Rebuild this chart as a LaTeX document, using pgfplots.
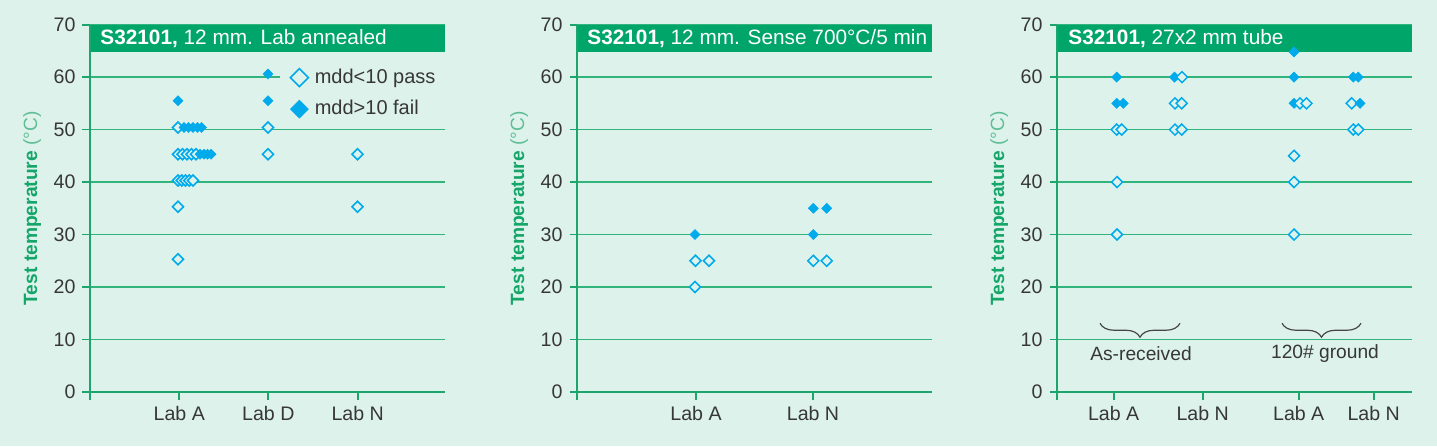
\documentclass[border=0pt]{standalone}
\usepackage{fontspec}
\setmainfont{Liberation Sans}
\usepackage{pgfplots}
\usepackage{pgfplotstable}
\pgfplotsset{compat=1.18}
\usetikzlibrary{decorations.pathreplacing}
\definecolor{bgc}{RGB}{222,242,236}
\definecolor{bandc}{RGB}{0,165,105}
\definecolor{gridc}{RGB}{50,180,125}
\definecolor{axc}{RGB}{30,165,110}
\definecolor{mk}{RGB}{0,170,235}
\definecolor{tickc}{RGB}{55,55,55}
\definecolor{labc}{RGB}{20,165,105}
\definecolor{labc2}{RGB}{95,190,150}
\definecolor{bracec}{RGB}{70,70,70}

\pgfdeclareplotmark{dia}{%
 \pgfpathmoveto{\pgfqpoint{0pt}{\pgfplotmarksize}}%
 \pgfpathlineto{\pgfqpoint{\pgfplotmarksize}{0pt}}%
 \pgfpathlineto{\pgfqpoint{0pt}{-\pgfplotmarksize}}%
 \pgfpathlineto{\pgfqpoint{-\pgfplotmarksize}{0pt}}%
 \pgfpathclose\pgfusepathqfillstroke}

% x = position in px from the left axis line, y = test temperature, c = o (pass) / f (fail)
\pgfplotstableread{
x y c
88 25.3 o
88 35.3 o
88 40.3 o
91.75 40.3 o
95.5 40.3 o
99.25 40.3 o
103 40.3 o
88 45.3 o
92.5 45.3 o
97 45.3 o
101.5 45.3 o
106 45.3 o
110 45.3 f
114 45.3 f
117.5 45.3 f
121 45.3 f
88 50.4 o
94 50.4 f
98.5 50.4 f
103 50.4 f
107.5 50.4 f
111.5 50.4 f
88 55.5 f
178 45.3 o
178 50.4 o
178 55.5 f
178 60.6 f
267.5 35.3 o
267.5 45.3 o
}\panelA

\pgfplotstableread{
x y c
118 20 o
118.5 25 o
132 25 o
118 30 f
236.3 25 o
249.7 25 o
236.3 30 f
236.3 35 f
249.7 35 f
}\panelB

\pgfplotstableread{
x y c
60 30 o
60 40 o
59.7 50 o
64.7 50 o
59.7 55 f
66.3 55 f
59.7 60 f
118 50 o
124.7 50 o
118 55 o
124.7 55 o
117.5 60 f
125 60 o
237 30 o
237 40 o
237 45 o
237 55 f
243 55 o
249.5 55 o
237 60 f
237 64.8 f
296.3 50 o
301.3 50 o
294.7 55 o
303 55 f
296.3 60 f
301.3 60 f
}\panelC

\tikzset{ttl/.style={anchor=west, inner sep=0pt, text=white, font=\fontsize{10.4}{12}\selectfont}}

\pgfplotsset{
 panel/.style={
  scale only axis, width=177.5pt, height=183.7pt,
  anchor=south west,
  xmin=0, xmax=355, ymin=0, ymax=70,
  clip=false,
  axis line style={draw=none},
  tick pos=left, tick align=outside,
  major tick length=3.75pt,
  tick style={axc, line width=0.9pt},
  ytick={0,10,...,70},
  ymajorgrids, grid style={gridc, line width=0.8pt},
  /pgf/number format/assume math mode=true,
  tick label style={font=\fontsize{9.8}{11}\selectfont, text=tickc},
  ylabel={\textbf{Test temperature} \textcolor{labc2}{(°C)}},
  every axis y label/.style={at={(axis description cs:-0.163,0.5)}, rotate=90, anchor=center, font=\fontsize{9.6}{11}\selectfont, text=labc},
 },
 pts/.style={scatter, only marks, scatter src=explicit symbolic,
   scatter/classes={
     o={mark=dia, draw=mk, fill=bgc, line width=0.75pt, mark size=2.75pt},
     f={mark=dia, draw=mk, fill=mk, line width=0.3pt, mark size=2.5pt}}},
}

\begin{document}
\begin{tikzpicture}
\path[use as bounding box, fill=bgc] (0,0) rectangle (718.5pt,223pt);

\begin{axis}[panel, at={(45pt,27pt)},
  xtick={89.3,178.3,267.7}, xticklabels={Lab A,Lab D,Lab N},
  legend style={at={(axis cs:200,62.4)}, anchor=north west, fill=none, draw=none, inner sep=0pt, row sep=3pt,
    column sep=1.2pt, font=\fontsize{10}{12}\selectfont, text=tickc},
  legend cell align=left,
  legend image post style={mark size=4.5pt}]
\fill[bandc] (axis cs:0,64.8) rectangle (axis cs:355,70);
\node[ttl] at (axis cs:10,67.4) {\textbf{S32101,} 12 mm. Lab annealed};
\fill[bgc] (axis cs:190,58) rectangle (axis cs:355,62);
\draw[axc, line width=1pt] (axis cs:0,-1.43) -- (axis cs:0,70);
\draw[axc, line width=1pt] (axis cs:0,0) -- (axis cs:355,0);
\addplot[pts] table[x=x,y=y,meta=c] {\panelA};
\legend{mdd<10 pass, mdd>10 fail}
\end{axis}

\begin{axis}[panel, at={(288.5pt,27pt)},
  xtick={119,236}, xticklabels={Lab A,Lab N}]
\fill[bandc] (axis cs:0,64.8) rectangle (axis cs:355,70);
\node[ttl] at (axis cs:10,67.4) {\textbf{S32101,} 12 mm. Sense 700°C/5 min};
\draw[axc, line width=1pt] (axis cs:0,-1.43) -- (axis cs:0,70);
\draw[axc, line width=1pt] (axis cs:0,0) -- (axis cs:355,0);
\addplot[pts] table[x=x,y=y,meta=c] {\panelB};
\end{axis}

\begin{axis}[panel, at={(528.5pt,27pt)},
  xtick={56.7,145.7,241.7,316.7}, xticklabels={Lab A,Lab N,Lab A,Lab N}]
\fill[bandc] (axis cs:0,64.8) rectangle (axis cs:355,70);
\node[ttl] at (axis cs:11,67.4) {\textbf{S32101,} 27x2 mm tube};
\draw[axc, line width=1pt] (axis cs:0,-1.43) -- (axis cs:0,70);
\draw[axc, line width=1pt] (axis cs:0,0) -- (axis cs:355,0);
\draw[bracec, line width=0.6pt, decorate, decoration={brace, mirror, amplitude=7pt}] (axis cs:43,13.1) -- (axis cs:123,13.1);
\draw[bracec, line width=0.6pt, decorate, decoration={brace, mirror, amplitude=7pt}] (axis cs:225,13.1) -- (axis cs:304,13.1);
\node[text=tickc, font=\fontsize{9.6}{11}\selectfont] at (axis cs:84,7.4) {As-received};
\node[text=tickc, font=\fontsize{9.6}{11}\selectfont] at (axis cs:268,7.4) {120\# ground};
\addplot[pts] table[x=x,y=y,meta=c] {\panelC};
\end{axis}
\end{tikzpicture}
\end{document}
